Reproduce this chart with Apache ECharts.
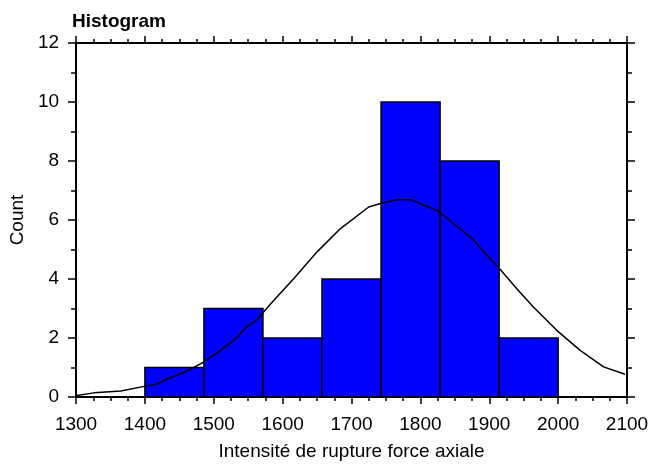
<!DOCTYPE html>
<html><head><meta charset="utf-8">
<script src="https://cdn.jsdelivr.net/npm/echarts@6/dist/echarts.min.js"></script>
<style>html,body{margin:0;padding:0;background:#fff}#c{width:653px;height:466px}</style>
</head><body><div id="c"></div>
<script>
const binEdges = [1400, 1485.7, 1571.4, 1657.1, 1742.9, 1828.6, 1914.3, 2000];
const counts = [1, 3, 2, 4, 10, 8, 2];
const curveX = [1301, 1326, 1365, 1399, 1417, 1433, 1457, 1486, 1510, 1534, 1546, 1561, 1583, 1616, 1650, 1684, 1725, 1742, 1766, 1786, 1805, 1824, 1848, 1875, 1892, 1916, 1940, 1964, 1998, 2032, 2066, 2097];
const curveY = [0.05, 0.14, 0.2, 0.36, 0.43, 0.62, 0.83, 1.19, 1.58, 2.01, 2.35, 2.58, 3.17, 4.01, 4.92, 5.71, 6.44, 6.56, 6.69, 6.69, 6.5, 6.33, 5.88, 5.37, 4.92, 4.32, 3.67, 3.05, 2.26, 1.58, 1.02, 0.77];
const xTicks = [1300, 1400, 1500, 1600, 1700, 1800, 1900, 2000, 2100];
const yTicks = [0, 2, 4, 6, 8, 10, 12];

const bars = counts.map((c, i) => [binEdges[i], binEdges[i + 1], c]);
const curve = curveX.map((x, i) => [x, curveY[i]]);
const font = 'Liberation Sans, Arial, sans-serif';
const axLine = {show: true, onZero: false, lineStyle: {color: '#000', width: 2}};

const chart = echarts.init(document.getElementById('c'));
chart.setOption({
  animation: false,
  title: {text: 'Histogram', left: 67, top: 7, textStyle: {fontFamily: font, fontSize: 19, fontWeight: 'bold', color: '#000'}},
  grid: {left: 75, right: 26, top: 43, bottom: 69},
  xAxis: [{
    type: 'value', min: xTicks[0], max: xTicks[xTicks.length - 1], interval: 100, position: 'bottom',
    axisLine: axLine,
    axisTick: {show: true, length: 7, lineStyle: {color: '#000', width: 1.5}},
    minorTick: {show: true, splitNumber: 4, length: 4, lineStyle: {color: '#000', width: 1.5}},
    axisLabel: {color: '#000', fontFamily: font, fontSize: 19, margin: 18, formatter: v => String(v)},
    splitLine: {show: false},
    name: 'Intensité de rupture force axiale', nameLocation: 'middle', nameGap: 45,
    nameTextStyle: {color: '#000', fontFamily: font, fontSize: 19}
  }, {
    type: 'value', min: xTicks[0], max: xTicks[xTicks.length - 1], interval: 100, position: 'top',
    axisLine: axLine,
    axisTick: {show: true, length: 7, lineStyle: {color: '#000', width: 1.5}},
    minorTick: {show: true, splitNumber: 4, length: 4, lineStyle: {color: '#000', width: 1.5}},
    axisLabel: {show: false}, splitLine: {show: false}
  }],
  yAxis: [{
    type: 'value', min: yTicks[0], max: yTicks[yTicks.length - 1], interval: 2, position: 'left',
    axisLine: axLine,
    axisTick: {show: true, length: 8, lineStyle: {color: '#000', width: 1.5}},
    minorTick: {show: true, splitNumber: 2, length: 5, lineStyle: {color: '#000', width: 1.5}},
    axisLabel: {color: '#000', fontFamily: font, fontSize: 19, margin: 17},
    splitLine: {show: false},
    name: 'Count', nameLocation: 'middle', nameGap: 42, nameRotate: 90,
    nameTextStyle: {color: '#000', fontFamily: font, fontSize: 19}
  }, {
    type: 'value', min: yTicks[0], max: yTicks[yTicks.length - 1], interval: 2, position: 'right',
    axisLine: axLine,
    axisTick: {show: true, length: 8, lineStyle: {color: '#000', width: 1.5}},
    minorTick: {show: true, splitNumber: 2, length: 5, lineStyle: {color: '#000', width: 1.5}},
    axisLabel: {show: false}, splitLine: {show: false}
  }],
  series: [{
    type: 'custom',
    xAxisIndex: 0, yAxisIndex: 0,
    data: bars,
    renderItem: function (params, api) {
      const p0 = api.coord([api.value(0), 0]);
      const p1 = api.coord([api.value(1), api.value(2)]);
      return {type: 'rect', shape: {x: p0[0], y: p1[1], width: p1[0] - p0[0], height: p0[1] - p1[1]},
        style: {fill: '#0000FF', stroke: '#000', lineWidth: 1.5}};
    },
    z: 1
  }, {
    type: 'line', xAxisIndex: 0, yAxisIndex: 0,
    data: curve, showSymbol: false, symbol: 'none',
    lineStyle: {color: '#000', width: 1.5}, z: 3
  }]
});
</script></body></html>
